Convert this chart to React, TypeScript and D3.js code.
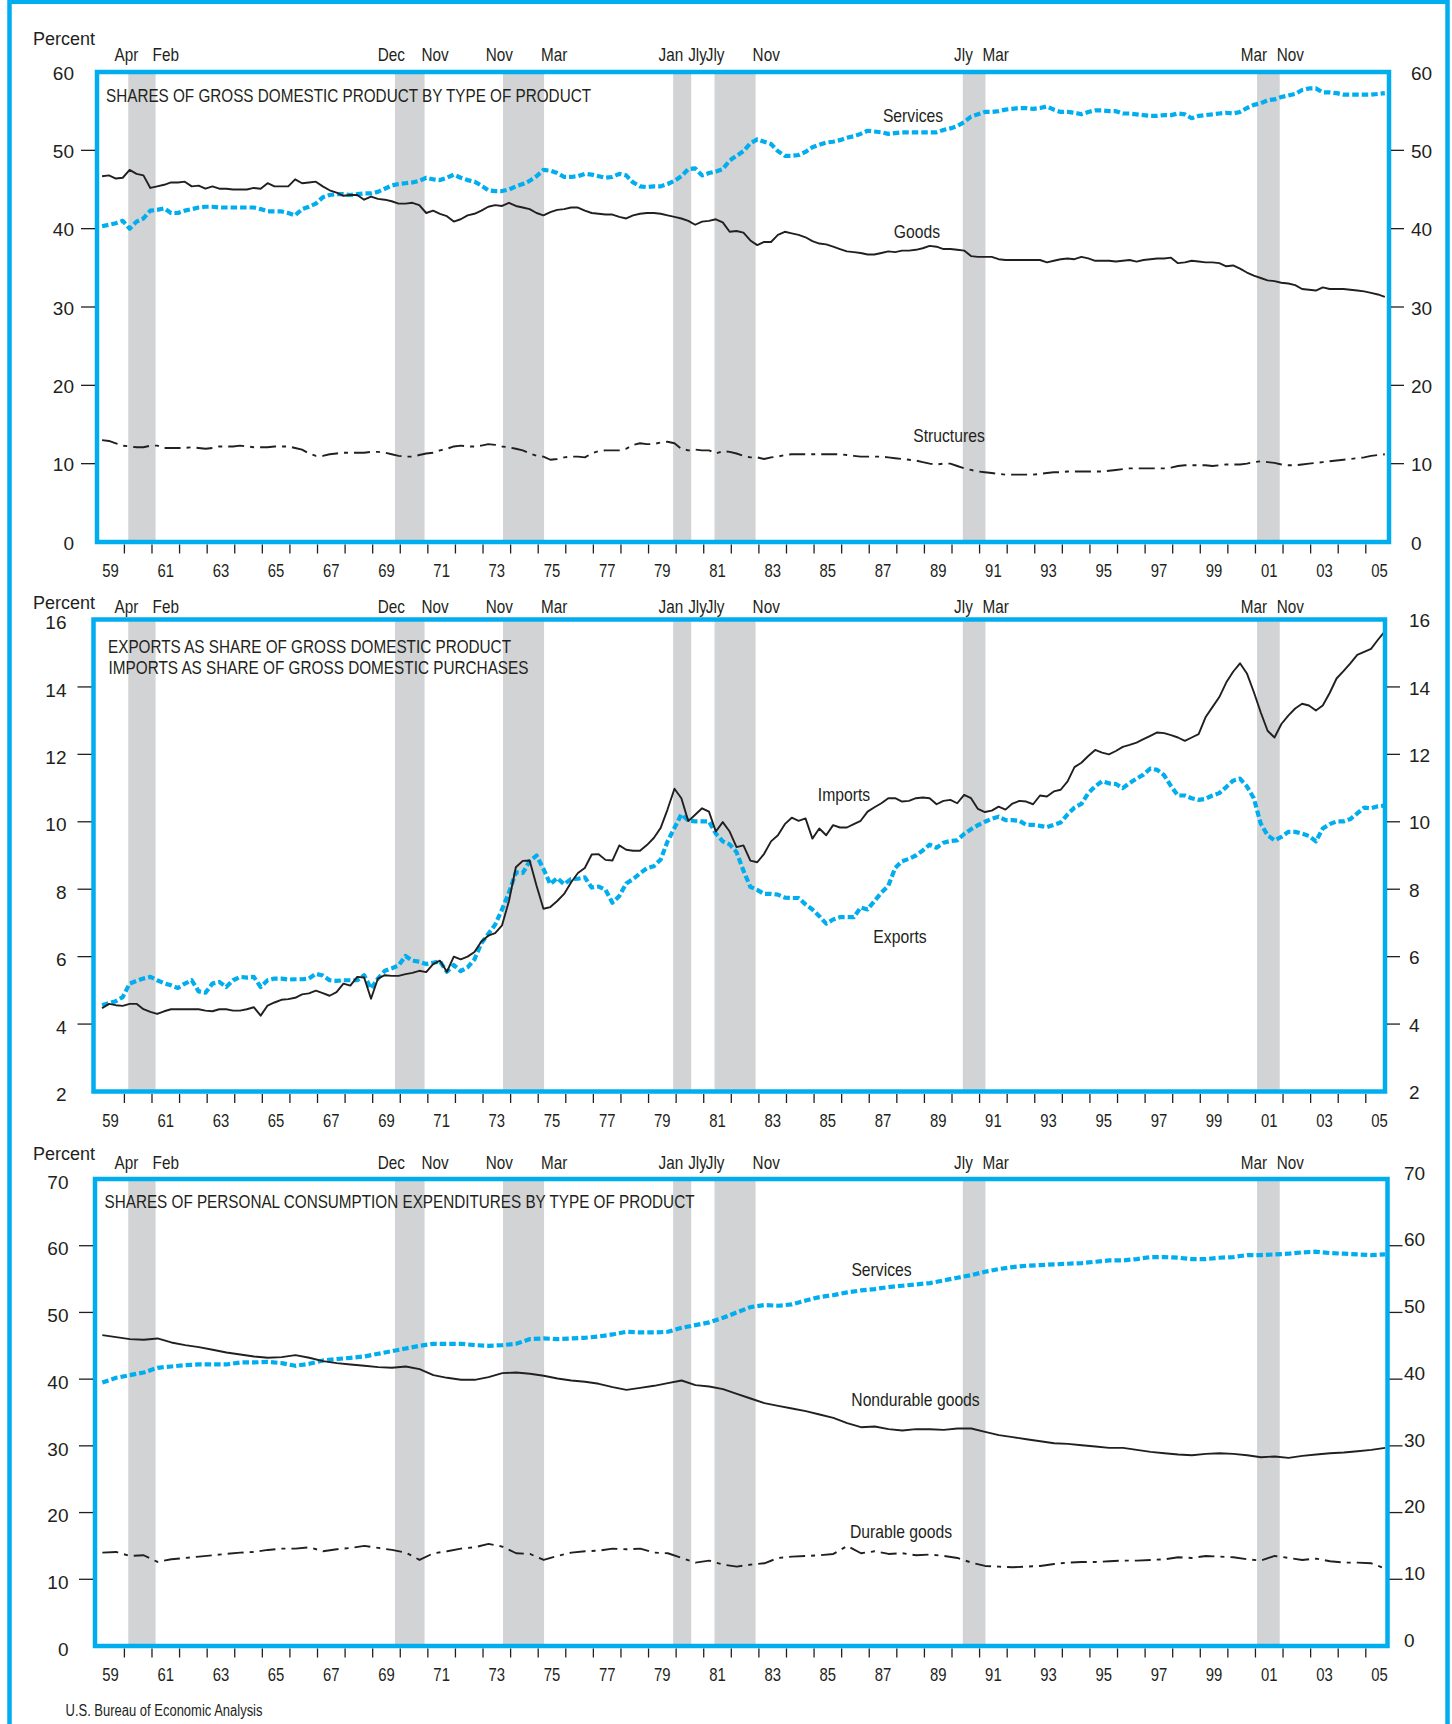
import React from "react";
import * as d3 from "d3";

const W = 1452;
const H = 1724;

// quarterly series: 1959Q1 .. 2005Q3
const Q_START = 1959.19;
const Q_STEP = 0.25;
// half-yearly series (panel 3)
const S_START = 1959.2;
const S_STEP = 0.5;

// ---------- Panel 1: shares of GDP ----------
const gdpServices = [
  40.3, 40.5, 40.7, 41.0, 40.0, 40.9, 41.3, 42.3, 42.4, 42.6, 42.0, 42.0,
  42.3, 42.5, 42.7, 42.8, 42.8, 42.7, 42.7, 42.7, 42.7, 42.7, 42.7, 42.5,
  42.2, 42.2, 42.2, 42.0, 41.7, 42.5, 42.8, 43.2, 44.0, 44.3, 44.4, 44.4,
  44.3, 44.4, 44.5, 44.5, 44.7, 45.1, 45.5, 45.7, 45.8, 45.9, 46.1, 46.5,
  46.3, 46.2, 46.5, 46.9, 46.5, 46.2, 46.0, 45.5, 44.9, 44.8, 44.8, 45.0,
  45.4, 45.7, 46.1, 46.7, 47.5, 47.4, 47.1, 46.6, 46.6, 46.7, 47.0, 46.9,
  46.7, 46.5, 46.6, 47.0, 46.8, 45.9, 45.4, 45.3, 45.4, 45.4, 45.7, 46.1,
  46.7, 47.6, 47.7, 46.8, 47.1, 47.3, 47.6, 48.7, 49.3, 49.9, 50.9, 51.4,
  51.1, 50.8, 49.9, 49.3, 49.3, 49.4, 49.8, 50.4, 50.7, 51.0, 51.1, 51.3,
  51.6, 51.8, 52.1, 52.5, 52.4, 52.3, 52.1, 52.2, 52.3, 52.3, 52.3, 52.3,
  52.3, 52.3, 52.6, 52.8, 53.1, 53.6, 54.3, 54.6, 54.9, 54.9, 55.0, 55.2,
  55.3, 55.4, 55.4, 55.3, 55.4, 55.6, 55.2, 54.9, 54.9, 54.8, 54.6, 54.9,
  55.1, 55.1, 55.0, 55.0, 54.7, 54.7, 54.6, 54.5, 54.4, 54.4, 54.5, 54.5,
  54.7, 54.6, 54.1, 54.4, 54.5, 54.6, 54.7, 54.8, 54.7, 54.9, 55.4, 55.8,
  56.0, 56.4, 56.5, 56.8, 57.0, 57.2, 57.7, 57.9, 57.9, 57.4, 57.4, 57.3,
  57.1, 57.1, 57.1, 57.1, 57.1, 57.2, 57.3,
];

const gdpGoods = [
  46.7, 46.8, 46.4, 46.5, 47.5, 47.0, 46.8, 45.2, 45.4, 45.6, 45.9, 45.9,
  46.0, 45.4, 45.5, 45.1, 45.4, 45.1, 45.1, 45.0, 45.0, 45.0, 45.2, 45.1,
  45.8, 45.4, 45.4, 45.4, 46.3, 45.8, 45.9, 46.0, 45.4, 44.9, 44.6, 44.2,
  44.3, 44.3, 43.7, 44.1, 43.8, 43.7, 43.5, 43.2, 43.2, 43.3, 43.0, 42.0,
  42.3, 41.9, 41.6, 40.9, 41.2, 41.7, 41.9, 42.3, 42.8, 43.0, 42.9, 43.3,
  42.9, 42.7, 42.5, 42.0, 41.7, 42.1, 42.4, 42.5, 42.7, 42.7, 42.3, 42.0,
  41.9, 41.8, 41.8, 41.5, 41.3, 41.7, 41.9, 42.0, 42.0, 41.9, 41.7, 41.5,
  41.3, 41.0, 40.5, 40.9, 41.0, 41.2, 40.8, 39.6, 39.7, 39.5, 38.5, 37.9,
  38.3, 38.3, 39.2, 39.6, 39.4, 39.2, 38.9, 38.4, 38.1, 38.0, 37.7, 37.4,
  37.1, 37.0, 36.9, 36.7, 36.7, 36.9, 37.1, 37.0, 37.2, 37.2, 37.3, 37.5,
  37.8, 37.7, 37.4, 37.4, 37.3, 37.2, 36.5, 36.4, 36.4, 36.4, 36.1, 36.0,
  36.0, 36.0, 36.0, 36.0, 36.0, 35.7, 35.9, 36.1, 36.2, 36.1, 36.4, 36.2,
  35.9, 35.9, 35.9, 35.8, 35.9, 36.0, 35.8, 36.0, 36.1, 36.2, 36.2, 36.3,
  35.6, 35.7, 35.9, 35.8, 35.7, 35.7, 35.6, 35.2, 35.3, 34.9, 34.4, 34.0,
  33.7, 33.4, 33.3, 33.1, 33.0, 32.8, 32.3, 32.2, 32.1, 32.5, 32.3, 32.3,
  32.3, 32.2, 32.1, 32.0, 31.8, 31.6, 31.3,
];

const gdpStructures = [
  13.0, 12.9, 12.6, 12.3, 12.2, 12.1, 12.1, 12.3, 12.3, 12.0, 12.0, 12.0,
  12.0, 12.1, 12.0, 11.9, 12.0, 12.2, 12.2, 12.2, 12.3, 12.2, 12.1, 12.1,
  12.1, 12.2, 12.2, 12.2, 12.0, 11.8, 11.3, 11.0, 11.0, 11.2, 11.3, 11.4,
  11.4, 11.4, 11.4, 11.5, 11.5, 11.4, 11.2, 11.0, 10.9, 10.9, 11.1, 11.3,
  11.4, 11.7, 11.9, 12.2, 12.3, 12.2, 12.2, 12.3, 12.5, 12.4, 12.2, 12.1,
  11.9, 11.7, 11.3, 11.0, 10.9, 10.5, 10.6, 10.8, 10.9, 10.9, 10.8, 11.3,
  11.6, 11.7, 11.7, 11.7, 11.9, 12.4, 12.6, 12.5, 12.5, 12.7, 12.8, 12.6,
  11.9, 11.7, 11.8, 11.7, 11.7, 11.3, 11.6, 11.5, 11.3, 11.0, 10.8, 10.8,
  10.6, 10.8, 10.9, 11.1, 11.2, 11.2, 11.2, 11.2, 11.2, 11.2, 11.2, 11.2,
  11.1, 11.0, 10.9, 10.9, 10.9, 10.9, 10.8, 10.7, 10.6, 10.5, 10.4, 10.2,
  10.0, 9.9, 10.0, 10.0, 9.7, 9.4, 9.2, 9.0, 8.9, 8.8, 8.7, 8.6,
  8.6, 8.6, 8.6, 8.6, 8.7, 8.8, 8.9, 8.9, 9.0, 9.0, 9.0, 9.0,
  9.0, 9.0, 9.1, 9.2, 9.3, 9.4, 9.4, 9.4, 9.4, 9.4, 9.4, 9.5,
  9.7, 9.8, 9.8, 9.8, 9.8, 9.7, 9.8, 9.9, 9.9, 9.9, 10.0, 10.2,
  10.3, 10.2, 10.1, 9.9, 9.8, 9.8, 9.9, 10.0, 10.1, 10.2, 10.3, 10.4,
  10.5, 10.6, 10.7, 10.8, 11.0, 11.1, 11.2,
];

// ---------- Panel 2: exports / imports ----------
const tradeImports = [
  4.47, 4.6, 4.56, 4.54, 4.6, 4.6, 4.44, 4.36, 4.3, 4.38, 4.44, 4.44,
  4.44, 4.44, 4.44, 4.4, 4.38, 4.44, 4.44, 4.4, 4.4, 4.44, 4.5, 4.25,
  4.55, 4.64, 4.72, 4.74, 4.78, 4.88, 4.91, 4.99, 4.92, 4.84, 4.95, 5.2,
  5.14, 5.4, 5.38, 4.75, 5.35, 5.45, 5.43, 5.43, 5.48, 5.52, 5.58, 5.54,
  5.78, 5.88, 5.55, 6.0, 5.92, 6.0, 6.14, 6.45, 6.62, 6.7, 6.93, 7.65,
  8.65, 8.84, 8.85, 8.1, 7.42, 7.47, 7.65, 7.86, 8.2, 8.48, 8.63, 9.03,
  9.04, 8.87, 8.85, 9.3, 9.17, 9.14, 9.14, 9.31, 9.52, 9.82, 10.37, 10.98,
  10.7, 10.02, 10.21, 10.4, 10.3, 9.71, 9.99, 9.71, 9.25, 9.3, 8.85, 8.8,
  9.05, 9.42, 9.6, 9.93, 10.12, 10.03, 10.1, 9.5, 9.8, 9.6, 9.9, 9.83,
  9.83, 9.93, 10.03, 10.3, 10.43, 10.55, 10.7, 10.7, 10.6, 10.62, 10.7, 10.72,
  10.7, 10.52, 10.62, 10.65, 10.55, 10.8, 10.7, 10.38, 10.29, 10.33, 10.45, 10.36,
  10.54, 10.62, 10.6, 10.52, 10.78, 10.75, 10.9, 10.95, 11.2, 11.62, 11.75, 11.95,
  12.13, 12.05, 12.0, 12.1, 12.22, 12.28, 12.35, 12.45, 12.55, 12.65, 12.63, 12.57,
  12.5, 12.4, 12.5, 12.6, 13.1, 13.4, 13.7, 14.13, 14.45, 14.7, 14.4, 13.85,
  13.25, 12.7, 12.5, 12.9, 13.15, 13.36, 13.5, 13.45, 13.3, 13.45, 13.82, 14.25,
  14.47, 14.7, 14.95, 15.04, 15.13, 15.4, 15.65,
];

const tradeExports = [
  4.56, 4.62, 4.68, 4.8, 5.2, 5.28, 5.35, 5.4, 5.3, 5.21, 5.15, 5.07,
  5.2, 5.3, 4.97, 4.93, 5.2, 5.25, 5.1, 5.3, 5.4, 5.38, 5.4, 5.1,
  5.3, 5.35, 5.35, 5.32, 5.33, 5.33, 5.35, 5.49, 5.44, 5.3, 5.28, 5.3,
  5.3, 5.3, 5.45, 5.05, 5.35, 5.58, 5.65, 5.74, 6.02, 5.88, 5.85, 5.78,
  5.82, 5.86, 5.55, 5.75, 5.57, 5.68, 5.92, 6.4, 6.67, 6.95, 7.4, 7.9,
  8.5, 8.48, 8.83, 9.0, 8.6, 8.15, 8.33, 8.15, 8.3, 8.31, 8.35, 8.05,
  8.08, 7.98, 7.6, 7.8, 8.17, 8.3, 8.47, 8.62, 8.68, 8.88, 9.42, 9.82,
  10.22, 10.04, 10.01, 10.01, 10.01, 9.65, 9.42, 9.33, 9.1, 8.55, 8.07, 7.98,
  7.86, 7.86, 7.84, 7.75, 7.74, 7.74, 7.55, 7.4, 7.2, 6.98, 7.1, 7.17,
  7.17, 7.17, 7.46, 7.4, 7.65, 7.9, 8.1, 8.63, 8.83, 8.9, 9.0, 9.15,
  9.32, 9.23, 9.38, 9.43, 9.45, 9.64, 9.78, 9.9, 10.0, 10.09, 10.15, 10.05,
  10.05, 10.03, 9.91, 9.91, 9.88, 9.84, 9.91, 9.98, 10.22, 10.42, 10.53, 10.85,
  11.05, 11.2, 11.14, 11.12, 11.0, 11.15, 11.28, 11.4, 11.58, 11.54, 11.38, 11.06,
  10.78, 10.78, 10.7, 10.65, 10.68, 10.78, 10.85, 11.03, 11.22, 11.28, 11.05, 10.7,
  9.95, 9.6, 9.45, 9.55, 9.7, 9.7, 9.65, 9.58, 9.42, 9.8, 9.93, 10.01,
  10.01, 10.08, 10.25, 10.42, 10.4, 10.46, 10.48,
];

// ---------- Panel 3: shares of PCE (half-yearly reading) ----------
const pceServices = [
  39.5, 40.2, 40.6, 41.0, 41.7, 41.9, 42.1, 42.2, 42.2, 42.2,
  42.5, 42.5, 42.6, 42.4, 42.0, 42.3, 42.8, 43.0, 43.2, 43.4,
  43.8, 44.2, 44.6, 45.0, 45.3, 45.3, 45.3, 45.1, 45.0, 45.1,
  45.3, 46.0, 46.1, 46.0, 46.1, 46.2, 46.4, 46.7, 47.1, 47.0,
  47.0, 47.1, 47.7, 48.1, 48.5, 49.2, 50.0, 50.8, 51.1, 51.0,
  51.2, 51.8, 52.3, 52.6, 53.0, 53.3, 53.5, 53.8, 54.0, 54.2,
  54.4, 54.8, 55.2, 55.6, 56.1, 56.5, 56.8, 57.0, 57.1, 57.2,
  57.3, 57.4, 57.6, 57.8, 57.8, 58.0, 58.3, 58.3, 58.2, 58.0,
  58.0, 58.2, 58.3, 58.6, 58.6, 58.7, 58.8, 59.0, 59.1, 58.9,
  58.8, 58.7, 58.6, 58.7,
];
const pceNondurable = [
  46.6, 46.3, 46.0, 45.9, 46.1, 45.5, 45.1, 44.8, 44.4, 44.0,
  43.7, 43.4, 43.2, 43.3, 43.6, 43.2, 42.7, 42.4, 42.2, 42.0,
  41.8, 41.7, 41.9, 41.5, 40.6, 40.2, 39.9, 39.9, 40.3, 40.9,
  41.0, 40.8, 40.5, 40.1, 39.8, 39.6, 39.3, 38.8, 38.4, 38.7,
  39.0, 39.4, 39.8, 39.1, 38.9, 38.5, 37.8, 37.1, 36.4, 36.0,
  35.6, 35.2, 34.7, 34.2, 33.4, 32.8, 32.9, 32.5, 32.3, 32.5,
  32.5, 32.4, 32.6, 32.6, 32.1, 31.6, 31.3, 31.0, 30.7, 30.4,
  30.3, 30.1, 29.9, 29.7, 29.7, 29.4, 29.1, 28.9, 28.7, 28.6,
  28.8, 28.9, 28.8, 28.6, 28.3, 28.4, 28.2, 28.5, 28.7, 28.9,
  29.0, 29.2, 29.4, 29.7,
];
const pceDurable = [
  14.0, 14.1, 13.5, 13.6, 12.6, 13.0, 13.2, 13.4, 13.6, 13.8,
  14.0, 14.1, 14.4, 14.6, 14.6, 14.8, 14.2, 14.5, 14.7, 15.0,
  14.7, 14.4, 14.0, 12.9, 13.9, 14.2, 14.6, 14.8, 15.3, 14.9,
  13.9, 13.8, 12.9, 13.5, 14.0, 14.2, 14.3, 14.6, 14.5, 14.6,
  14.0, 13.9, 13.2, 12.5, 12.8, 12.2, 11.9, 12.2, 12.4, 13.2,
  13.4, 13.5, 13.6, 13.8, 15.0, 13.9, 14.2, 13.8, 13.9, 13.6,
  13.7, 13.5, 13.2, 12.5, 12.0, 11.9, 11.8, 11.9, 12.0, 12.3,
  12.5, 12.6, 12.6, 12.7, 12.8, 12.8, 12.9, 13.0, 13.3, 13.2,
  13.5, 13.4, 13.3, 13.0, 12.8, 13.5, 13.2, 12.9, 13.1, 12.7,
  12.5, 12.5, 12.4, 11.6,
];

// ---------- recessions ----------
const recessionStarts: [number, number][] = [
  [1960, 4], [1969, 12], [1973, 11], [1980, 1], [1981, 7], [1990, 7], [2001, 3],
];
const recessionEnds: [number, number][] = [
  [1961, 2], [1970, 11], [1975, 3], [1980, 7], [1982, 11], [1991, 3], [2001, 11],
];
const monthNames = ["Jan", "Feb", "Mar", "Apr", "May", "June", "Jly", "Aug", "Sept", "Oct", "Nov", "Dec"];

const yearTicks = d3.range(1960, 2006);
const yearLabels = d3.range(1959, 2006, 2);

const ticks1 = [0, 10, 20, 30, 40, 50, 60];
const ticks2 = [2, 4, 6, 8, 10, 12, 14, 16];
const ticks3 = [0, 10, 20, 30, 40, 50, 60, 70];

const BLUE = "#00AEEF";
const INK = "#231F20";
const BAND = "#D1D3D4";
const SANS = "'Liberation Sans', Arial, Helvetica, sans-serif";
const SX = 0.85; // horizontal condensing, emulating Helvetica Condensed

type SeriesDef = {
  values: number[];
  start: number;
  step: number;
  style: "solid" | "dotted" | "dashdot";
};

type LabelDef = { text: string; x: number; y: number };

type PanelDef = {
  left: number;
  right: number;
  top: number;
  bottom: number;
  domain: [number, number];
  ticks: number[];
  leftLabelX: number;
  leftLabelDy: number;
  rightLabelX: number;
  rightLabelDy: number;
  percentY: number;
  monthY: number;
  titles: { text: string; x: number; y: number; w: number }[];
  series: SeriesDef[];
  labels: LabelDef[];
};

const xScale = d3.scaleLinear().domain([1960, 2005]).range([124.4, 1365.8]);

const fmtYear = (y: number) => String(y % 100).padStart(2, "0");

const panels: PanelDef[] = [
  {
    left: 97, right: 1389, top: 72, bottom: 542,
    domain: [0, 60], ticks: ticks1,
    leftLabelX: 74, leftLabelDy: 1, rightLabelX: 1411, rightLabelDy: 1,
    percentY: 39, monthY: 55,
    titles: [{ text: "SHARES OF GROSS DOMESTIC PRODUCT BY TYPE OF PRODUCT", x: 106, y: 96, w: 485 }],
    series: [
      { values: gdpServices, start: Q_START, step: Q_STEP, style: "dotted" },
      { values: gdpGoods, start: Q_START, step: Q_STEP, style: "solid" },
      { values: gdpStructures, start: Q_START, step: Q_STEP, style: "dashdot" },
    ],
    labels: [
      { text: "Services", x: 913, y: 115.5 },
      { text: "Goods", x: 917, y: 232 },
      { text: "Structures", x: 949, y: 436 },
    ],
  },
  {
    left: 93.5, right: 1385, top: 619.5, bottom: 1091.5,
    domain: [2, 16], ticks: ticks2,
    leftLabelX: 66.5, leftLabelDy: 3, rightLabelX: 1409, rightLabelDy: 1,
    percentY: 603, monthY: 607,
    titles: [
      { text: "EXPORTS AS SHARE OF GROSS DOMESTIC PRODUCT", x: 108, y: 646.5, w: 403 },
      { text: "IMPORTS AS SHARE OF GROSS DOMESTIC PURCHASES", x: 108.5, y: 667.5, w: 420 },
    ],
    series: [
      { values: tradeExports, start: Q_START, step: Q_STEP, style: "dotted" },
      { values: tradeImports, start: Q_START, step: Q_STEP, style: "solid" },
    ],
    labels: [
      { text: "Imports", x: 844, y: 795 },
      { text: "Exports", x: 900, y: 936.5 },
    ],
  },
  {
    left: 95, right: 1387.5, top: 1179, bottom: 1646,
    domain: [0, 70], ticks: ticks3,
    leftLabelX: 68.5, leftLabelDy: 3, rightLabelX: 1404, rightLabelDy: -6,
    percentY: 1154, monthY: 1163,
    titles: [{ text: "SHARES OF PERSONAL CONSUMPTION EXPENDITURES BY TYPE OF PRODUCT", x: 104.5, y: 1202, w: 590 }],
    series: [
      { values: pceServices, start: S_START, step: S_STEP, style: "dotted" },
      { values: pceNondurable, start: S_START, step: S_STEP, style: "solid" },
      { values: pceDurable, start: S_START, step: S_STEP, style: "dashdot" },
    ],
    labels: [
      { text: "Services", x: 881.5, y: 1269.5 },
      { text: "Nondurable goods", x: 915.5, y: 1400 },
      { text: "Durable goods", x: 901, y: 1532 },
    ],
  },
];

const styleOf = (s: SeriesDef["style"]) => {
  if (s === "dotted") return { stroke: BLUE, strokeWidth: 4.2, strokeDasharray: "6.5 3" };
  if (s === "dashdot") return { stroke: INK, strokeWidth: 1.9, strokeDasharray: "16 6 4 6" };
  return { stroke: INK, strokeWidth: 1.9, strokeDasharray: undefined };
};

const toYear = (y: number, m: number) => y + (m - 1) / 12;

// condensed text helper
function NT({
  x, y, size = 18, anchor = "start", children,
}: { x: number; y: number; size?: number; anchor?: "start" | "middle" | "end"; children: React.ReactNode }) {
  return (
    <text
      transform={`translate(${x},${y}) scale(${SX},1)`}
      dy="0.35em"
      textAnchor={anchor}
      fontFamily={SANS}
      fontSize={size}
      fill={INK}
    >
      {children}
    </text>
  );
}

function Panel({ p }: { p: PanelDef }) {
  const y = d3.scaleLinear().domain(p.domain).range([p.bottom, p.top]);
  const bands = recessionStarts.map(([ys, ms], i) => {
    const [ye, me] = recessionEnds[i];
    return {
      x0: xScale(toYear(ys, ms)) - 3,
      x1: xScale(toYear(ye, me) + 1 / 12) - 1,
      startName: monthNames[ms - 1],
      endName: monthNames[me - 1],
    };
  });
  return (
    <g>
      {bands.map((b, i) => (
        <rect key={"b" + i} x={b.x0} y={p.top} width={b.x1 - b.x0} height={p.bottom - p.top} fill={BAND} />
      ))}
      {bands.map((b, i) => (
        <g key={"m" + i}>
          <NT x={b.x0 + 10} y={p.monthY} anchor="end">{b.startName}</NT>
          <NT x={b.x1 - 3} y={p.monthY} anchor="start">{b.endName}</NT>
        </g>
      ))}
      {p.series.map((s, i) => {
        const gen = d3
          .line<number>()
          .x((_, k) => xScale(s.start + k * s.step))
          .y((v) => y(v));
        const st = styleOf(s.style);
        return (
          <path
            key={"s" + i}
            d={gen(s.values) || ""}
            fill="none"
            stroke={st.stroke}
            strokeWidth={st.strokeWidth}
            strokeDasharray={st.strokeDasharray}
            strokeLinejoin="round"
          />
        );
      })}
      <rect x={p.left} y={p.top} width={p.right - p.left} height={p.bottom - p.top} fill="none" stroke={BLUE} strokeWidth={4.5} />
      {p.ticks.map((t, i) => {
        const yy = y(t);
        const inner = i > 0 && i < p.ticks.length - 1;
        return (
          <g key={"t" + t}>
            {inner && <line x1={p.left - 16} x2={p.left - 2} y1={yy} y2={yy} stroke={INK} strokeWidth={1.3} />}
            {inner && <line x1={p.right + 2} x2={p.right + 15} y1={yy} y2={yy} stroke={INK} strokeWidth={1.3} />}
            <text x={p.leftLabelX} y={yy + p.leftLabelDy} dy="0.35em" textAnchor="end" fontFamily={SANS} fontSize={19} fill={INK}>{t}</text>
            <text x={p.rightLabelX} y={yy + p.rightLabelDy} dy="0.35em" textAnchor="start" fontFamily={SANS} fontSize={19} fill={INK}>{t}</text>
          </g>
        );
      })}
      <text x={95} y={p.percentY} dy="0.35em" textAnchor="end" fontFamily={SANS} fontSize={18} fill={INK}>Percent</text>
      {yearTicks.map((yr) => (
        <line key={"x" + yr} x1={xScale(yr)} x2={xScale(yr)} y1={p.bottom + 2.5} y2={p.bottom + 11.5} stroke={INK} strokeWidth={1.3} />
      ))}
      {yearLabels.map((yr) => (
        <NT key={"xl" + yr} x={xScale(yr + 0.5)} y={p.bottom + 29} size={17.5} anchor="middle">
          {fmtYear(yr)}
        </NT>
      ))}
      {p.titles.map((t, i) => (
        <text key={"ti" + i} x={t.x} y={t.y} dy="0.35em" fontFamily={SANS} fontSize={17.5} fill={INK} textLength={t.w} lengthAdjust="spacingAndGlyphs">
          {t.text}
        </text>
      ))}
      {p.labels.map((l, i) => (
        <NT key={"l" + i} x={l.x} y={l.y} size={18.5} anchor="middle">{l.text}</NT>
      ))}
    </g>
  );
}

export default function App() {
  return (
    <svg
      width={W}
      height={H}
      viewBox={`0 0 ${W} ${H}`}
      style={{ position: "absolute", left: 0, top: 0, background: "#fff" }}
    >
      <rect x={0} y={0} width={W} height={H} fill="#fff" />
      <rect x={9.5} y={1.8} width={1438} height={1760} fill="none" stroke={BLUE} strokeWidth={4.5} />
      {panels.map((p, i) => (
        <Panel key={i} p={p} />
      ))}
      <text x={65.5} y={1710} dy="0.35em" fontFamily={SANS} fontSize={16} fill={INK} textLength={197} lengthAdjust="spacingAndGlyphs">
        U.S. Bureau of Economic Analysis
      </text>
    </svg>
  );
}
